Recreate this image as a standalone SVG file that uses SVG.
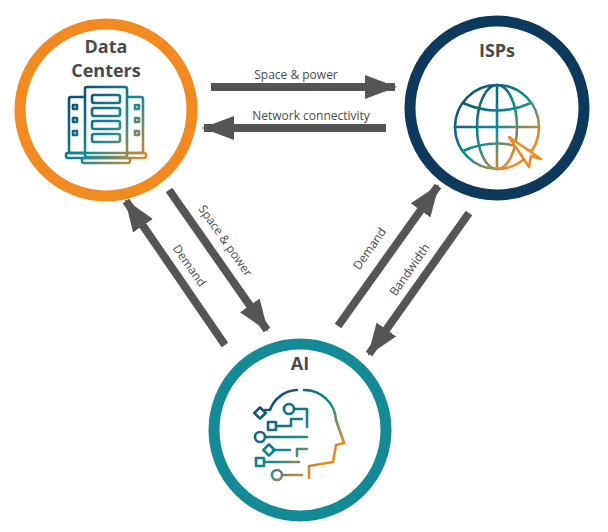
<svg xmlns="http://www.w3.org/2000/svg" width="608" height="532" viewBox="0 0 608 532">
<style>
.ring{fill:#fff;stroke-width:11}
.title{font-family:"Open Sans",sans-serif;font-weight:bold;font-size:18px;fill:#4a4a4a;text-anchor:middle}
.lbl{font-family:"Open Sans",sans-serif;font-size:12px;fill:#4a4a4a;text-anchor:middle}
.arr{stroke:#555;stroke-width:8;fill:none;marker-end:url(#ah)}
.ic{fill:none;stroke-width:2.6;stroke-linecap:round;stroke-linejoin:round}
</style>
<defs>
<marker id="ah" markerUnits="userSpaceOnUse" markerWidth="32" markerHeight="24" refX="30" refY="12" orient="auto"><path d="M0,0 L32,12 L0,24 Z" fill="#555"/></marker>
<linearGradient id="gd" gradientUnits="userSpaceOnUse" x1="66" y1="87" x2="146" y2="163"><stop offset="0" stop-color="#123d6a"/><stop offset="0.55" stop-color="#138a96"/><stop offset="1" stop-color="#f08a24"/></linearGradient>
<linearGradient id="gi" gradientUnits="userSpaceOnUse" x1="455" y1="85" x2="540" y2="170"><stop offset="0" stop-color="#123d6a"/><stop offset="0.5" stop-color="#138a96"/><stop offset="0.8" stop-color="#f08a24"/></linearGradient>
<linearGradient id="ga" gradientUnits="userSpaceOnUse" x1="255" y1="390" x2="345" y2="478"><stop offset="0" stop-color="#123d6a"/><stop offset="0.5" stop-color="#138a96"/><stop offset="0.8" stop-color="#f08a24"/></linearGradient>
</defs>
<g id="connectors">
<line class="arr" x1="211" y1="87" x2="395" y2="87"/>
<line class="arr" x1="386" y1="128" x2="204" y2="128"/>
<line class="arr" x1="169" y1="190" x2="267" y2="330"/>
<line class="arr" x1="225" y1="345" x2="126" y2="201"/>
<line class="arr" x1="338" y1="326" x2="438" y2="186"/>
<line class="arr" x1="469" y1="213" x2="369" y2="354"/>
<text class="lbl" x="296" y="79">Space &amp; power</text>
<text class="lbl" x="311" y="120">Network connectivity</text>
<text class="lbl" transform="translate(222,243) rotate(55)">Space &amp; power</text>
<text class="lbl" transform="translate(186,268) rotate(55)">Demand</text>
<text class="lbl" transform="translate(373,251) rotate(-55)">Demand</text>
<text class="lbl" transform="translate(413,272) rotate(-55)">Bandwidth</text>
</g>
<g id="data-centers">
<circle class="ring" cx="106" cy="110" r="86" stroke="#f28a22"/>
<text class="title" x="106" y="53">Data</text>
<text class="title" x="106" y="77">Centers</text>
<g class="ic" stroke="url(#gd)">
<rect x="69" y="97" width="18" height="56" rx="2"/>
<rect x="125" y="97" width="18" height="56" rx="2"/>
<rect x="85" y="87" width="42" height="70" rx="2" fill="#fff"/>
<rect x="92" y="95" width="28" height="8" rx="2"/>
<rect x="92" y="108" width="28" height="8" rx="2"/>
<rect x="92" y="121" width="28" height="8" rx="2"/>
<rect x="92" y="134" width="28" height="8" rx="2"/>
<rect x="66" y="153" width="80" height="5" rx="2"/>
<rect x="82" y="158" width="48" height="5" rx="2"/>
<rect x="73" y="105" width="4" height="4"/><rect x="73" y="118" width="4" height="4"/><rect x="73" y="131" width="4" height="4"/>
<rect x="135" y="105" width="4" height="4"/><rect x="135" y="118" width="4" height="4"/><rect x="135" y="131" width="4" height="4"/>
</g>
</g>
<g id="isps">
<circle class="ring" cx="497" cy="108" r="87" stroke="#0d3a5c"/>
<text class="title" x="497" y="57">ISPs</text>
<g class="ic" stroke="url(#gi)" stroke-width="3">
<circle cx="497" cy="127" r="42"/>
<ellipse cx="497" cy="127" rx="20" ry="42"/>
<line x1="497" y1="85" x2="497" y2="169"/>
<line x1="455" y1="127" x2="539" y2="127"/>
<path d="M463,103 Q497,118 531,103"/>
<path d="M463,151 Q497,136 531,151"/>
<path d="M509,137 L529,167 L531,156 L541,159 Z" fill="#fff" stroke="#f08a24"/>
</g>
</g>
<g id="ai">
<circle class="ring" cx="300" cy="430" r="86" stroke="#138a96"/>
<text class="title" x="300" y="370">AI</text>
<g class="ic" stroke="url(#ga)">
<path d="M297,390 A30,30 0 0 0 270,410 L265,410"/>
<path d="M304,390 A32,32 0 0 1 336,420 L344,443 L336,445 L333,462 L309,466 L309,478"/>
<rect x="256" y="409" width="8" height="8" transform="rotate(45 260 413)"/>
<circle cx="289" cy="409" r="5"/><path d="M294,409 L307,409 L307,427"/>
<rect x="268" y="422" width="8" height="8"/><path d="M276,426 L291,426 L291,419 L302,419"/>
<circle cx="260" cy="437" r="5"/><path d="M265,437 L307,437"/>
<rect x="265" y="446" width="8" height="8" transform="rotate(45 269 450)"/><path d="M273,450 L290,450"/>
<path d="M297,456 L297,449 L307,449"/>
<rect x="256" y="458" width="8" height="8"/><path d="M264,462 L299,462"/>
<circle cx="277" cy="475" r="5"/><path d="M282,475 L302,475"/>
</g>
</g>
</svg>
